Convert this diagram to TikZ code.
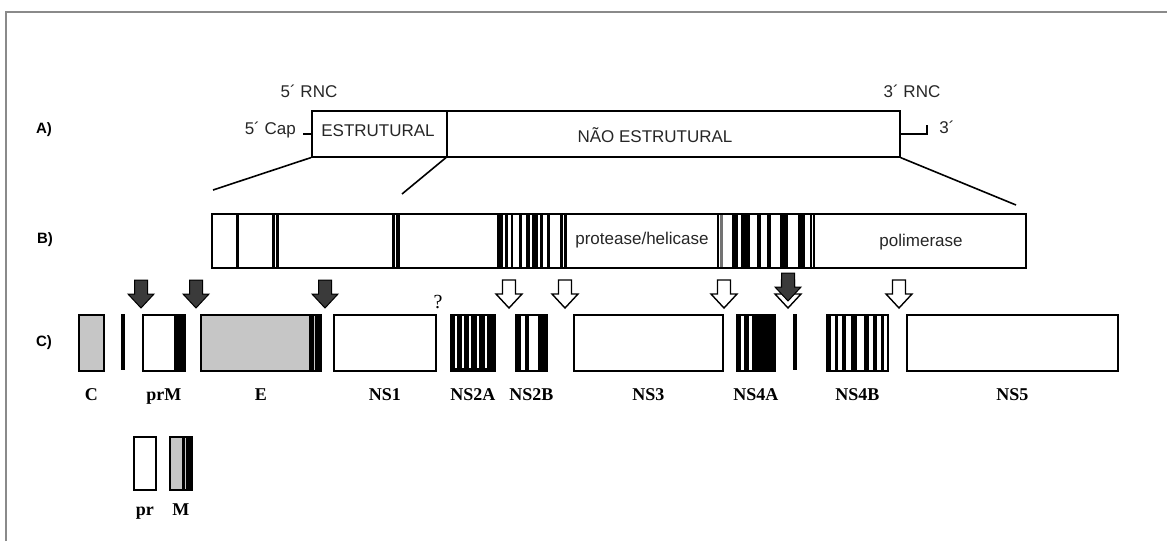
\documentclass[tikz,border=0pt]{standalone}
\usepackage{fontspec}
\setmainfont{Liberation Serif}
\setsansfont{Liberation Sans}
\usetikzlibrary{positioning}
\definecolor{cutgray}{HTML}{3A3A3A}
\definecolor{capsid}{HTML}{C6C6C6}
\definecolor{framegray}{HTML}{8A8A8A}
\tikzset{
  rowlabel/.style={font=\sffamily\bfseries\fontsize{15}{15}\selectfont, inner sep=0pt},
  regiontext/.style={font=\sffamily\fontsize{17}{17}\selectfont, inner sep=0pt, text=black!85},
  protlabel/.style={font=\rmfamily\bfseries\fontsize{18}{18}\selectfont, inner sep=0pt, anchor=base},
  genebox/.style={draw, line width=1.6pt, inner sep=0pt, anchor=north west},
  zoomline/.style={line width=1.6pt},
  hostcut/.pic={
    \draw[line width=1pt, fill=cutgray] (-6.5,0) -- (6.5,0) -- (6.5,14) -- (13,14)
      -- (0,28) -- (-13,14) -- (-6.5,14) -- cycle;
  },
  viralcut/.pic={
    \draw[line width=1.4pt, fill=white] (-6.5,0) -- (6.5,0) -- (6.5,14) -- (13,14)
      -- (0,28) -- (-13,14) -- (-6.5,14) -- cycle;
  },
}

\begin{document}
\begin{tikzpicture}[x=1pt,y=-1pt]
  \useasboundingbox (0,0) rectangle (1167,541);
  \draw[framegray, line width=2pt] (6,541) -- (6,12) -- (1167,12);

  % A) genome
  \node[rowlabel] (labA) at (44,130) {A)};
  \node[genebox, minimum width=135pt, minimum height=46pt] (estr) at (311,110) {};
  \node[genebox, minimum width=453pt, minimum height=46pt] (naoestr) at (446,110) {};
  \node[regiontext] (testr) at (378,131) {ESTRUTURAL};
  \node[regiontext] (tnao) at (655,135) {NÃO ESTRUTURAL};
  \node[regiontext] (rnc5) at (309,91) {5´ RNC};
  \node[regiontext] (rnc3) at (912,91) {3´ RNC};
  \node[regiontext, anchor=east] (cap5) at (296,130) {5´ Cap};
  \draw[line width=2pt] ([xshift=-8pt]estr.west) -- (estr.west);
  \draw[line width=2pt] (naoestr.east) -- ++(26,0) -- ++(0,-9);
  \node[regiontext] (end3) at (947,127) {3´};

  % zoom lines
  \coordinate (bl) at (213,190);
  \coordinate (bm) at (402,194);
  \coordinate (br) at (1016,205);
  \draw[zoomline] (estr.south west) -- (bl);
  \draw[zoomline] (naoestr.south west) -- (bm);
  \draw[zoomline] (naoestr.south east) -- (br);

  % B) polyprotein
  \node[rowlabel] (labB) at (45,240) {B)};
  \foreach \a/\b in {235.5/239, 272/274.5, 276/279, 392/394.5, 396/399.5,
                     497/503, 505/508, 511/513, 519/522, 526/530, 532/538, 540/543, 547/550,
                     560/563, 564/567,
                     717/719, 732/738, 741/750, 757/761, 767/771, 780/788, 798/805, 810/812, 813/815}
    \fill (\a,213) rectangle (\b,267);
  \fill[black!55] (720,213) rectangle (723,267);
  \node[genebox, minimum width=814pt, minimum height=54pt] (poly) at (211,213) {};
  \node[regiontext] (tprot) at (642,240) {protease/helicase};
  \node[regiontext] (tpol) at (921,242) {polimerase};

  % C) proteins
  \node[rowlabel] (labC) at (44,343) {C)};
  \node[genebox, fill=capsid, minimum width=25pt, minimum height=56pt] (cbox) at (78,314) {};
  \fill (121,314) rectangle (125,370);
  \node[genebox, minimum width=42pt, minimum height=56pt] (prmbox) at (142,314) {};
  \fill (174,314) rectangle (184,370);
  \node[genebox, fill=capsid, minimum width=120pt, minimum height=56pt] (ebox) at (200,314) {};
  \fill (309,314) rectangle (314,370);
  \fill (315,314) rectangle (320,370);
  \node[genebox, minimum width=102pt, minimum height=56pt] (ns1box) at (333,314) {};
  \node[genebox, fill=black, minimum width=44pt, minimum height=56pt] (ns2abox) at (450,314) {};
  \foreach \g in {455,462,469,477,485}
    \fill[white] (\g,316) rectangle ++(2,52);
  \node[genebox, minimum width=31pt, minimum height=56pt] (ns2bbox) at (515,314) {};
  \foreach \a/\b in {515/521, 525/529, 538/546}
    \fill (\a,314) rectangle (\b,370);
  \node[genebox, minimum width=149pt, minimum height=56pt] (ns3box) at (573,314) {};
  \node[genebox, minimum width=38pt, minimum height=56pt] (ns4abox) at (736,314) {};
  \foreach \a/\b in {736/741, 744/749, 752/774}
    \fill (\a,314) rectangle (\b,370);
  \fill (793,314) rectangle (797,370);
  \node[genebox, minimum width=61pt, minimum height=56pt] (ns4bbox) at (826,314) {};
  \foreach \a/\b in {828/831, 835/838, 842/846, 851/857, 864/869, 873/877, 881/884}
    \fill (\a,314) rectangle (\b,370);
  \node[genebox, minimum width=211pt, minimum height=56pt] (ns5box) at (906,314) {};

  \coordinate (labrow) at (0,400);
  \node[protlabel] (tc) at (cbox.south |- labrow) {C};
  \node[protlabel] (tprm) at (prmbox.south |- labrow) {prM};
  \node[protlabel] (te) at (ebox.south |- labrow) {E};
  \node[protlabel] (tns1) at (ns1box.south |- labrow) {NS1};
  \node[protlabel] (tns2a) at (ns2abox.south |- labrow) {NS2A};
  \node[protlabel] (tns2b) at (ns2bbox.south |- labrow) {NS2B};
  \node[protlabel] (tns3) at (ns3box.south |- labrow) {NS3};
  \node[protlabel] (tns4a) at (ns4abox.south |- labrow) {NS4A};
  \node[protlabel] (tns4b) at (ns4bbox.south |- labrow) {NS4B};
  \node[protlabel] (tns5) at (ns5box.south |- labrow) {NS5};

  % cleavage sites
  \pic at (141,280) {hostcut};
  \pic at (196,280) {hostcut};
  \pic at (325,280) {hostcut};
  \pic at (509,280) {viralcut};
  \pic at (565,280) {viralcut};
  \pic at (724,280) {viralcut};
  \pic at (788,280) {viralcut};
  \pic at (788,273) {hostcut};
  \pic at (899,280) {viralcut};
  \node[font=\rmfamily\fontsize{20}{20}\selectfont, inner sep=0pt] (qmark) at (438,302) {?};

  % pr + M
  \node[genebox, minimum width=22pt, minimum height=53pt] (prbox) at (133,436) {};
  \node[genebox, fill=capsid, minimum width=22pt, minimum height=53pt] (mbox) at (169,436) {};
  \fill (182,436) rectangle (185,489);
  \fill (186,436) rectangle (191,489);
  \coordinate (labrow2) at (0,515);
  \node[protlabel] (tpr) at (prbox.south |- labrow2) {pr};
  \node[protlabel] (tm) at (mbox.south |- labrow2) {M};
\end{tikzpicture}
\end{document}
